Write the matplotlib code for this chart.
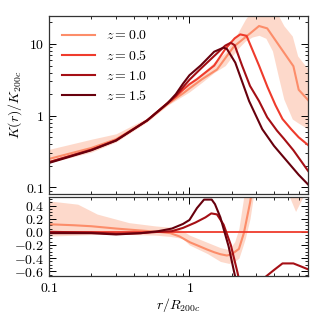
## Entropy profiles K(r)/K200c at several redshifts, with residuals
import numpy as np
import matplotlib.pyplot as plt
import matplotlib.ticker as mt

plt.rcParams['mathtext.fontset'] = 'cm'
plt.rcParams['font.family'] = 'serif'
plt.rcParams['font.serif'] = ['DejaVu Serif']

## Colours for each redshift
colours = ['#fc8d6a', '#ef3b2c', '#a50f15', '#67000d']
labels = ['$z = 0.0$', '$z = 0.5$', '$z = 1.0$', '$z = 1.5$']

## Top panel: profiles
r_z00 = [0.1, 0.2, 0.3, 0.5, 0.7, 0.8, 0.9, 1.0, 1.23, 1.57, 2.07, 2.7, 3.13, 3.58, 4.4, 5.5, 6.0, 7.0]
K_z00 = [0.25, 0.355, 0.47, 0.86, 1.45, 1.75, 2.05, 2.4, 3.23, 4.4, 9.2, 14.0, 17.8, 16.5, 9.2, 4.9, 2.3, 1.65]

r_z05 = [0.1, 0.2, 0.3, 0.5, 0.7, 0.8, 0.9, 1.0, 1.13, 1.5, 1.8, 2.1, 2.3, 2.55, 3.13, 3.6, 4.1, 4.6, 5.3, 6.0, 7.0]
K_z05 = [0.225, 0.335, 0.455, 0.86, 1.5, 1.85, 2.3, 2.75, 3.23, 5.0, 8.5, 12.0, 13.6, 13.0, 5.0, 2.5, 1.4, 0.9, 0.65, 0.5, 0.39]

r_z10 = [0.1, 0.2, 0.3, 0.5, 0.7, 0.8, 0.9, 1.0, 1.2, 1.5, 1.8, 1.97, 2.1, 2.37, 2.7, 3.13, 3.58, 4.2, 4.7, 5.5, 7.0]
K_z10 = [0.225, 0.335, 0.455, 0.86, 1.5, 1.9, 2.5, 3.17, 4.5, 6.8, 9.5, 10.4, 9.6, 5.0, 2.6, 1.6, 0.95, 0.62, 0.48, 0.33, 0.17]

r_z15 = [0.1, 0.2, 0.3, 0.5, 0.7, 0.8, 0.9, 1.0, 1.2, 1.5, 1.75, 1.85, 2.12, 2.4, 2.66, 3.3, 4.0, 4.8, 6.0, 7.0]
K_z15 = [0.22, 0.33, 0.45, 0.86, 1.5, 2.0, 2.8, 3.67, 5.0, 7.8, 8.9, 8.5, 5.5, 2.8, 1.6, 0.65, 0.38, 0.25, 0.15, 0.11]

## Scatter band around z = 0
band_r = [0.1, 0.2, 0.3, 0.5, 0.7, 1.0, 1.25, 1.5, 1.8, 2.2, 2.5, 2.8, 3.13, 3.5, 3.9, 4.3, 4.7, 5.4, 5.9, 7.0]
band_hi = [0.34, 0.47, 0.56, 0.93, 1.65, 2.8, 4.0, 5.6, 7.6, 14.0, 22.0, 30.0, 35.0, 35.0, 30.0, 25.0, 18.0, 12.9, 6.8, 4.45]
band_lo = [0.22, 0.31, 0.43, 0.82, 1.4, 2.15, 3.0, 4.0, 5.0, 8.5, 11.0, 12.5, 13.2, 12.0, 8.0, 3.5, 1.7, 0.9, 0.8, 0.65]

## Bottom panel: residuals relative to z = 0.5
dr_z00 = [0.1, 0.15, 0.2, 0.3, 0.45, 0.6, 0.73, 0.85, 1.01, 1.15, 1.34, 1.5, 1.66, 1.85, 2.0, 2.25, 2.44, 2.7, 2.8, 3.0]
d_z00 = [0.115, 0.1, 0.085, 0.05, 0.02, 0.0, -0.02, -0.07, -0.16, -0.21, -0.27, -0.31, -0.34, -0.36, -0.34, -0.26, -0.02, 0.44, 0.65, 1.5]

dr_z10 = [0.1, 0.2, 0.3, 0.45, 0.6, 0.75, 0.9, 1.1, 1.3, 1.43, 1.57, 1.75, 1.97, 2.2, 2.35, 3.0, 3.5, 4.0, 4.6, 5.5, 6.3, 7.0]
d_z10 = [0.0, -0.01, -0.03, -0.02, 0.0, 0.01, 0.06, 0.14, 0.22, 0.28, 0.265, 0.11, -0.2, -0.62, -0.9, -1.0, -0.68, -0.58, -0.48, -0.48, -0.53, -0.57]

dr_z15 = [0.1, 0.2, 0.3, 0.45, 0.6, 0.75, 0.9, 1.0, 1.13, 1.27, 1.44, 1.52, 1.66, 1.9, 2.1, 2.25]
d_z15 = [-0.02, -0.02, -0.04, -0.02, 0.01, 0.05, 0.12, 0.18, 0.36, 0.49, 0.49, 0.42, 0.22, -0.22, -0.65, -0.95]

dband_r = [0.1, 0.16, 0.22, 0.37, 0.57, 0.73, 0.89, 1.0, 1.34, 1.66, 1.91, 2.1, 2.25, 2.4, 2.5, 2.7, 2.86, 3.0, 4.5, 5.0, 5.7, 6.5, 7.0]
dband_hi = [0.47, 0.42, 0.27, 0.14, 0.09, 0.07, 0.02, -0.05, -0.16, -0.24, -0.27, -0.15, 0.05, 0.44, 0.7, 3.0, 3.0, 3.0, 3.0, 3.0, 3.0, 3.0, 3.0]
dband_lo = [-0.065, -0.05, -0.04, -0.04, -0.05, -0.07, -0.1, -0.2, -0.33, -0.45, -0.48, -0.45, -0.4, -0.22, -0.1, 0.2, 0.55, 1.0, 0.8, 0.6, 0.31, 0.55, 0.8]


def mathFormatter(v, pos):
    return '$%g$' % v


def styleAxis(ax):
    ax.tick_params(which='both', direction='in', top=True, right=True, labelsize=10)
    ax.tick_params(which='major', length=5, width=0.7)
    ax.tick_params(which='minor', length=2.5, width=0.6)
    for s in ax.spines.values():
        s.set_linewidth(0.9)
        s.set_color('#333333')


fig = plt.figure(figsize=(3.25, 3.25), dpi=100)
axTop = fig.add_axes([0.151, 0.403, 0.797, 0.548])
axBot = fig.add_axes([0.151, 0.151, 0.797, 0.243])

## Top panel
axTop.fill_between(band_r, band_lo, band_hi, color='#fcbba1', alpha=0.55, lw=0)
profiles = [(r_z00, K_z00), (r_z05, K_z05), (r_z10, K_z10), (r_z15, K_z15)]
for (rr, kk), c, lab in zip(profiles, colours, labels):
    axTop.plot(rr, kk, color=c, lw=1.5, label=lab)
axTop.set_xscale('log')
axTop.set_yscale('log')
axTop.set_xlim(0.1, 7.0)
axTop.set_ylim(0.081, 24.6)
axTop.yaxis.set_major_formatter(mt.FuncFormatter(mathFormatter))
axTop.yaxis.set_minor_formatter(mt.NullFormatter())
axTop.xaxis.set_major_formatter(mt.NullFormatter())
axTop.xaxis.set_minor_formatter(mt.NullFormatter())
axTop.set_ylabel('$K(r)/K_{200c}$', fontsize=10, labelpad=1)
styleAxis(axTop)
axTop.legend(loc='upper left', bbox_to_anchor=(0.0, 1.0), frameon=False, fontsize=10,
             handlelength=2.4, labelspacing=0.45, handletextpad=0.8)

## Bottom panel
axBot.fill_between(dband_r, dband_lo, dband_hi, color='#fcbba1', alpha=0.55, lw=0)
axBot.plot(dr_z00, d_z00, color=colours[0], lw=1.5)
axBot.axhline(0.0, color=colours[1], lw=1.3)
axBot.plot(dr_z10, d_z10, color=colours[2], lw=1.5)
axBot.plot(dr_z15, d_z15, color=colours[3], lw=1.5)
axBot.set_xscale('log')
axBot.set_xlim(0.1, 7.0)
axBot.set_ylim(-0.67, 0.53)
axBot.yaxis.set_major_locator(mt.MultipleLocator(0.2))
axBot.yaxis.set_minor_locator(mt.MultipleLocator(0.05))
axBot.yaxis.set_major_formatter(mt.FuncFormatter(lambda v, p: '$%.1f$' % (0.0 if abs(v) < 1e-9 else v)))
axBot.xaxis.set_major_formatter(mt.FuncFormatter(mathFormatter))
axBot.xaxis.set_minor_formatter(mt.NullFormatter())
axBot.set_xlabel('$r/R_{200c}$', fontsize=10, labelpad=1)
styleAxis(axBot)

fig.savefig('out.png', dpi=100)
